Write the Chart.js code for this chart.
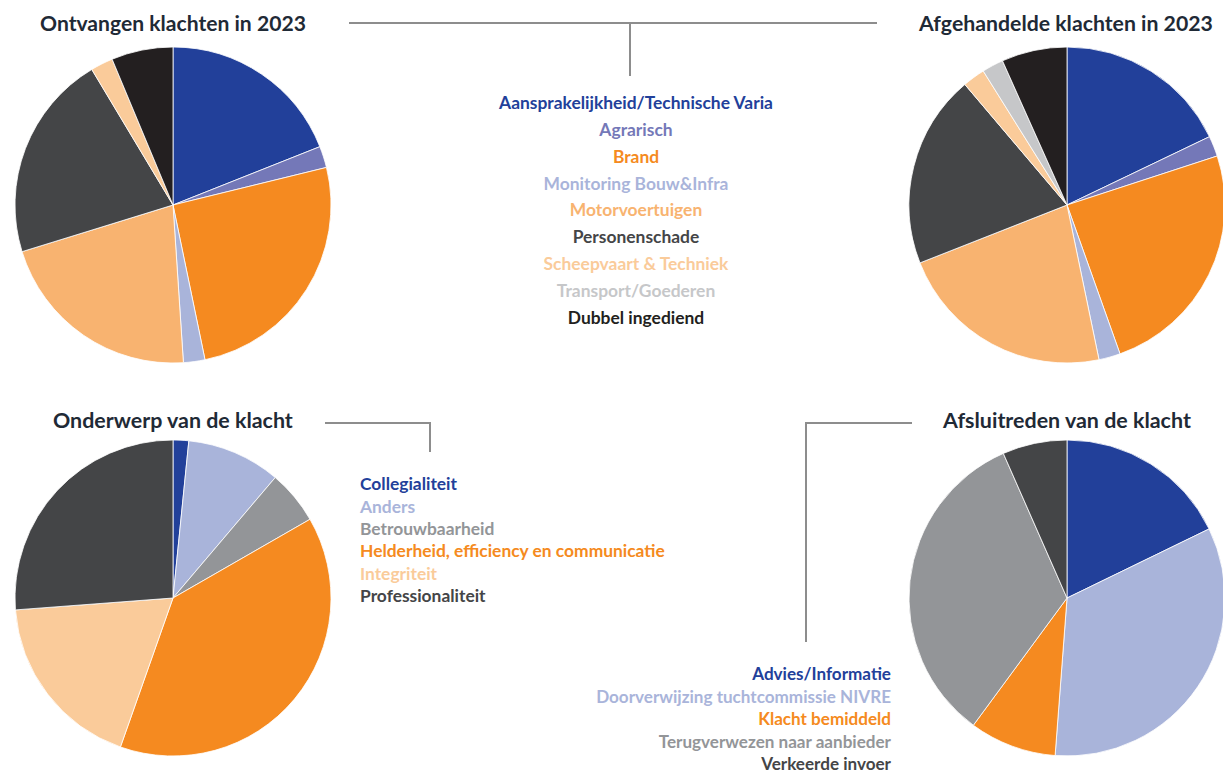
<!DOCTYPE html>
<html>
<head>
<meta charset="utf-8">
<script src="https://cdn.jsdelivr.net/npm/chart.js@4"></script>
<style>
  body { margin: 0; width: 1223px; height: 772px; overflow: hidden; background: #fff; position: relative; font-family: Lato, "Open Sans", sans-serif; }
  canvas.pie { position: absolute; }
  .title { position: absolute; font-weight: 700; color: #1f2a36; white-space: nowrap; line-height: 1; font-size: 20px; }
  .row { position: absolute; font-weight: 700; white-space: nowrap; line-height: 1; font-size: 15px; }
  .ln { position: absolute; background: #8d8d8d; }
</style>
</head>
<body>
<canvas id="pie1" class="pie" width="320" height="320" style="left:13px;top:45px"></canvas>
<canvas id="pie2" class="pie" width="320" height="320" style="left:907px;top:45px"></canvas>
<canvas id="pie3" class="pie" width="320" height="320" style="left:13px;top:438px"></canvas>
<canvas id="pie4" class="pie" width="320" height="320" style="left:907px;top:438px"></canvas>

<!-- connector lines -->
<div class="ln" style="left:349px;top:22px;width:528px;height:1.5px"></div>
<div class="ln" style="left:629px;top:22px;width:1.5px;height:54px"></div>
<div class="ln" style="left:325px;top:422px;width:105px;height:1.5px"></div>
<div class="ln" style="left:429px;top:422px;width:1.5px;height:30px"></div>
<div class="ln" style="left:805px;top:422px;width:107px;height:1.5px"></div>
<div class="ln" style="left:805px;top:422px;width:1.5px;height:220px"></div>

<script>
// Ontvangen / afgehandelde klachten per branche (aandeel in %)
const brancheLabels = ['Aansprakelijkheid/Technische Varia', 'Agrarisch', 'Brand', 'Monitoring Bouw&Infra',
  'Motorvoertuigen', 'Personenschade', 'Scheepvaart & Techniek', 'Transport/Goederen', 'Dubbel ingediend'];
const ontvangenValues = [19.0, 2.2, 25.6, 2.2, 21.3, 21.2, 2.3, 0, 6.3];
const afgehandeldValues = [17.9, 2.1, 24.6, 2.2, 22.3, 19.8, 2.3, 2.2, 6.7];
const brancheColors = ['#22409a', '#7478b8', '#f58a20', '#a9b4da', '#f8b370', '#444547', '#facb9a', '#c6c7c9', '#231f20'];

// Onderwerp van de klacht
const onderwerpLabels = ['Collegialiteit', 'Anders', 'Betrouwbaarheid', 'Helderheid, efficiency en communicatie',
  'Integriteit', 'Professionaliteit'];
const onderwerpValues = [1.6, 9.6, 5.5, 38.7, 18.4, 26.2];
const onderwerpColors = ['#22409a', '#a9b4da', '#939598', '#f58a20', '#facb9a', '#444547'];

// Afsluitreden van de klacht
const afsluitLabels = ['Advies/Informatie', 'Doorverwijzing tuchtcommissie NIVRE', 'Klacht bemiddeld',
  'Terugverwezen naar aanbieder', 'Verkeerde invoer'];
const afsluitValues = [17.8, 33.4, 8.9, 33.3, 6.6];
const afsluitColors = ['#22409a', '#a9b4da', '#f58a20', '#939598', '#444547'];

function makePie(id, labels, values, colors) {
  new Chart(document.getElementById(id), {
    type: 'pie',
    data: {
      labels: labels,
      datasets: [{
        data: values,
        backgroundColor: colors,
        borderColor: '#ffffff',
        borderWidth: ctx => ctx.raw ? 0.8 : 0
      }]
    },
    options: {
      responsive: false,
      animation: false,
      radius: 158,
      layout: { padding: 0 },
      plugins: { legend: { display: false }, tooltip: { enabled: false } }
    }
  });
}

makePie('pie1', brancheLabels, ontvangenValues, brancheColors);
makePie('pie2', brancheLabels, afgehandeldValues, brancheColors);
makePie('pie3', onderwerpLabels, onderwerpValues, onderwerpColors);
makePie('pie4', afsluitLabels, afsluitValues, afsluitColors);

// scale font so the text spans the wanted width
function fit(el, w) {
  const cur = el.getBoundingClientRect().width;
  el.style.fontSize = (parseFloat(getComputedStyle(el).fontSize) * w / cur) + 'px';
}

function addTitle(text, x0, x1, cy) {
  const d = document.createElement('div');
  d.className = 'title';
  d.textContent = text;
  document.body.appendChild(d);
  fit(d, x1 - x0);
  const h = parseFloat(d.style.fontSize);
  d.style.left = x0 + 'px';
  d.style.top = (cy - h * 0.45) + 'px';
}

addTitle('Ontvangen klachten in 2023', 40, 306, 22);
addTitle('Afgehandelde klachten in 2023', 919, 1213, 23);
addTitle('Onderwerp van de klacht', 53, 293, 420);
addTitle('Afsluitreden van de klacht', 943, 1191, 420);

// legend block: align 'center' | 'left' | 'right', x anchor, first row y, row step, widest row width
function addLegend(labels, colors, align, x, y0, step, widest) {
  const els = labels.map((t, i) => {
    const d = document.createElement('div');
    d.className = 'row';
    d.textContent = t;
    d.style.color = colors[i];
    document.body.appendChild(d);
    return d;
  });
  let maxW = 0;
  els.forEach(d => { maxW = Math.max(maxW, d.getBoundingClientRect().width); });
  const size = 15 * widest / maxW;
  els.forEach((d, i) => {
    d.style.fontSize = size + 'px';
    const w = d.getBoundingClientRect().width;
    let left = x;
    if (align === 'center') left = x - w / 2;
    if (align === 'right') left = x - w;
    d.style.left = left + 'px';
    d.style.top = (y0 + step * i - size * 0.45) + 'px';
  });
}

addLegend(brancheLabels, brancheColors, 'center', 636, 102, 26.8, 274);
addLegend(onderwerpLabels, onderwerpColors, 'left', 360, 483, 22.4, 305);
addLegend(afsluitLabels, afsluitColors, 'right', 891, 673, 22.5, 295);
</script>
</body>
</html>
